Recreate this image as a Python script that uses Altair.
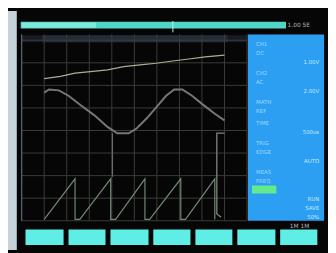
import altair as alt
import pandas as pd

# ---- oscilloscope traces (screen divisions: x 0..10, y 0..8) ----
ramp_x = [1.0, 1.72, 2.37, 3.16, 3.81, 4.53, 5.25, 5.97, 6.70, 7.42, 8.14, 9.0]
ramp_y = [6.30, 6.40, 6.54, 6.62, 6.69, 6.83, 6.91, 6.98, 7.08, 7.17, 7.26, 7.34]

sine_x = [1.0, 1.21, 1.65, 2.08, 2.65, 3.23, 3.81, 4.24, 4.75, 5.11, 5.54, 5.97,
          6.41, 6.77, 7.13, 7.56, 8.0, 8.57, 9.0]
sine_y = [5.68, 5.82, 5.78, 5.54, 5.10, 4.67, 4.16, 3.88, 3.88, 4.10, 4.53, 5.03,
          5.54, 5.82, 5.82, 5.54, 5.18, 4.74, 4.45]

saw_x = [1.0, 2.37, 2.37, 2.58, 3.95, 3.95, 4.17, 5.47, 5.47, 5.68, 7.06, 7.06,
         7.27, 8.57, 8.57]
saw_y = [0.06, 1.86, 0.06, 0.06, 1.86, 0.06, 0.06, 1.86, 0.06, 0.06, 1.86, 0.06,
         0.06, 1.86, 0.06]

step_x = [9.0, 8.66, 8.66, 8.85]
step_y = [3.88, 3.88, 0.3, 0.15]
drop_x = [4.03, 4.03]
drop_y = [3.88, 1.95]

grid_x = list(range(0, 11))
grid_y = list(range(0, 9))

# ---- screen furniture (in the same division units) ----
panels = pd.DataFrame({
    "x":  [-0.606, 0.0, 0.91, -0.043, 0.0, 10.04, 10.22, 0.17, 2.08, 3.94, 5.84, 7.71, 9.57, 11.47],
    "x2": [-0.216, 10.0, 9.13, 11.73, 3.3, 13.42, 11.30, 1.86, 3.72, 5.63, 7.49, 9.35, 11.26, 13.12],
    "y":  [-1.297, 7.91, 7.91, 8.52, 8.55, 0.0, 1.21, -1.08, -1.08, -1.08, -1.08, -1.08, -1.08, -1.08],
    "y2": [9.297, 8.22, 8.22, 8.82, 8.79, 8.26, 1.56, -0.39, -0.39, -0.39, -0.39, -0.39, -0.39, -0.39],
    "fill": ["#c6d3d9", "#151a24", "#252c38", "#50d6c6", "#7ee8dc", "#2d9ff2", "#63e88e",
             "#5eeee6", "#5eeee6", "#5eeee6", "#5eeee6", "#5eeee6", "#5eeee6", "#5eeee6"],
})

menu_left = ["CH1", "DC", "CH2", "AC", "MATH", "REF", "TIME", "TRIG", "EDGE", "MEAS", "FREQ"]
menu_left_y = [7.85, 7.45, 6.55, 6.15, 5.25, 4.85, 4.35, 3.45, 3.05, 2.15, 1.75]
menu_right = ["1.00V", "2.00V", "500us", "AUTO", "RUN", "SAVE", "50%"]
menu_right_y = [7.05, 5.75, 3.95, 2.65, 0.95, 0.55, 0.15]

XS = alt.Scale(domain=[-0.606, 13.593], nice=False, zero=False)
YS = alt.Scale(domain=[-1.297, 9.297], nice=False, zero=False)


def xq(f):
    return alt.X(f, type="quantitative", scale=XS, axis=None)


def yq(f):
    return alt.Y(f, type="quantitative", scale=YS, axis=None)


rects = alt.Chart(panels).mark_rect().encode(
    x=xq("x"), x2="x2", y=yq("y"), y2="y2",
    color=alt.Color("fill:N", scale=None),
)

vgrid = alt.Chart(pd.DataFrame({"x": grid_x, "y": 0.0, "y2": 8.26})).mark_rule(
    color="#3c3d39", strokeWidth=1
).encode(x=xq("x"), y=yq("y"), y2="y2")

hgrid = alt.Chart(pd.DataFrame({"y": grid_y, "x": 0.0, "x2": 10.0})).mark_rule(
    color="#3c3d39", strokeWidth=1
).encode(y=yq("y"), x=xq("x"), x2="x2")

border = alt.Chart(pd.DataFrame({"x": [0.0], "y": [0.0], "y2": [8.26]})).mark_rule(
    color="#60646a", strokeWidth=1.2
).encode(x=xq("x"), y=yq("y"), y2="y2")

marker = alt.Chart(pd.DataFrame({"x": [6.71], "y": [8.35], "y2": [8.85]})).mark_rule(
    color="#cfe6e0", strokeWidth=1
).encode(x=xq("x"), y=yq("y"), y2="y2")


def trace(xs, ys, color, width):
    df = pd.DataFrame({"x": xs, "y": ys, "i": list(range(len(xs)))})
    return alt.Chart(df).mark_line(color=color, strokeWidth=width).encode(
        x=xq("x"), y=yq("y"), order="i:Q"
    )


ramp = trace(ramp_x, ramp_y, "#b2ab94", 1.2)
sine = trace(sine_x, sine_y, "#777775", 2.0)
saw = trace(saw_x, saw_y, "#6f8a74", 1.2)
step = trace(step_x, step_y, "#858581", 1.3)
drop = trace(drop_x, drop_y, "#6a6a66", 1.2)

menu_l = alt.Chart(pd.DataFrame({"x": 10.4, "y": menu_left_y, "t": menu_left})).mark_text(
    fontSize=5.5, font="DejaVu Sans", color="#9ed8ff", align="left", baseline="middle"
).encode(x=xq("x"), y=yq("y"), text="t:N")

menu_r = alt.Chart(pd.DataFrame({"x": 13.2, "y": menu_right_y, "t": menu_right})).mark_text(
    fontSize=5.5, font="DejaVu Sans", color="#c4eaff", align="right", baseline="middle"
).encode(x=xq("x"), y=yq("y"), text="t:N")

status = alt.Chart(pd.DataFrame({"x": [11.8, 11.9], "y": [8.67, -0.22], "t": ["1.00  5E", "1M  1M"]})).mark_text(
    fontSize=6, font="DejaVu Sans", color="#b8b8b8", align="left", baseline="middle"
).encode(x=xq("x"), y=yq("y"), text="t:N")

chart = alt.layer(
    rects, vgrid, hgrid, border, marker, ramp, sine, saw, step, drop, menu_l, menu_r, status
).properties(
    width=328, height=245, background="#060606", padding=0,
    autosize=alt.AutoSizeParams(type="none"),
).configure_view(stroke=None)

chart.save("out.html", embed_options={"renderer": "svg", "actions": False})
